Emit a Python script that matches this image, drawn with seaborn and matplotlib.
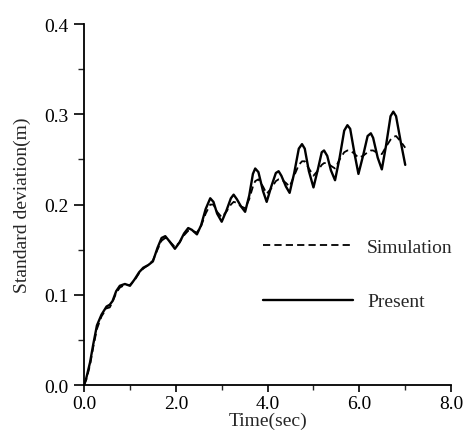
import numpy as np
import pandas as pd
import matplotlib
matplotlib.use("Agg")
import matplotlib.pyplot as plt
import seaborn as sns
from matplotlib.ticker import MultipleLocator, FormatStrFormatter

sns.set_style("ticks")
plt.rcParams['font.family'] = ['Liberation Serif', 'DejaVu Serif']

time = [0, 0.05, 0.13, 0.2, 0.28, 0.38, 0.49, 0.56, 0.62, 0.7, 0.78, 0.89, 1.0,
        1.1, 1.2, 1.29, 1.4, 1.5, 1.6, 1.69, 1.77, 1.85, 1.98, 2.08, 2.18, 2.27,
        2.35, 2.46, 2.55, 2.65, 2.75, 2.82, 2.9, 3.0, 3.1, 3.2, 3.26, 3.33, 3.42,
        3.51, 3.6, 3.68, 3.73, 3.8, 3.9, 3.98, 4.08, 4.18, 4.24, 4.3, 4.4, 4.48,
        4.58, 4.68, 4.75, 4.81, 4.9, 5.0, 5.1, 5.18, 5.23, 5.3, 5.38, 5.47, 5.57,
        5.67, 5.74, 5.8, 5.9, 5.98, 6.08, 6.18, 6.25, 6.3, 6.4, 6.49, 6.58, 6.68,
        6.74, 6.8, 6.9, 7.0]

present = [0.0, 0.008, 0.025, 0.045, 0.066, 0.078, 0.087, 0.089, 0.093, 0.104,
           0.110, 0.112, 0.110, 0.117, 0.125, 0.130, 0.133, 0.137, 0.152, 0.163,
           0.165, 0.160, 0.151, 0.158, 0.168, 0.174, 0.172, 0.167, 0.177, 0.195,
           0.207, 0.203, 0.190, 0.181, 0.193, 0.207, 0.211, 0.206, 0.198, 0.192,
           0.210, 0.234, 0.240, 0.236, 0.215, 0.203, 0.220, 0.235, 0.237, 0.232,
           0.220, 0.213, 0.235, 0.262, 0.267, 0.262, 0.237, 0.219, 0.240, 0.258,
           0.260, 0.254, 0.238, 0.227, 0.252, 0.282, 0.288, 0.284, 0.255, 0.234,
           0.254, 0.276, 0.279, 0.274, 0.252, 0.239, 0.265, 0.298, 0.303, 0.298,
           0.270, 0.244]

simulation = [0.0, 0.006, 0.022, 0.042, 0.062, 0.076, 0.085, 0.086, 0.092, 0.102,
              0.108, 0.111, 0.111, 0.116, 0.124, 0.129, 0.133, 0.138, 0.150, 0.160,
              0.163, 0.160, 0.153, 0.158, 0.166, 0.171, 0.171, 0.169, 0.176, 0.190,
              0.200, 0.200, 0.192, 0.186, 0.192, 0.200, 0.203, 0.202, 0.198, 0.196,
              0.206, 0.220, 0.226, 0.228, 0.220, 0.212, 0.218, 0.226, 0.228, 0.228,
              0.224, 0.220, 0.232, 0.244, 0.248, 0.248, 0.240, 0.232, 0.238, 0.244,
              0.246, 0.246, 0.243, 0.240, 0.250, 0.258, 0.260, 0.260, 0.256, 0.252,
              0.254, 0.258, 0.260, 0.260, 0.257, 0.256, 0.264, 0.272, 0.275, 0.276,
              0.270, 0.263]

df = pd.DataFrame({'time': time, 'Simulation': simulation, 'Present': present})

fig = plt.figure(figsize=(4.67, 4.39), dpi=100)
ax = fig.add_axes([0.18, 0.1207, 0.786, 0.822])

sns.lineplot(x='time', y='Simulation', data=df, ax=ax, color='black',
             linestyle='--', linewidth=1.3, label='Simulation')
ax.lines[-1].set_dashes([4, 2.3])
sns.lineplot(x='time', y='Present', data=df, ax=ax, color='black',
             linewidth=1.7, label='Present')

ax.set_xlim(0, 8)
ax.set_ylim(0, 0.4)
ax.xaxis.set_major_locator(MultipleLocator(2))
ax.xaxis.set_minor_locator(MultipleLocator(1))
ax.yaxis.set_major_locator(MultipleLocator(0.1))
ax.yaxis.set_minor_locator(MultipleLocator(0.05))
ax.xaxis.set_major_formatter(FormatStrFormatter('%.1f'))
ax.yaxis.set_major_formatter(FormatStrFormatter('%.1f'))
ax.tick_params(axis='both', which='major', direction='out', width=1.2,
               labelsize=14, colors='black')
ax.tick_params(axis='y', which='major', length=7, pad=4)
ax.tick_params(axis='y', which='minor', length=4, width=1)
ax.tick_params(axis='x', which='major', length=5, pad=2)
ax.tick_params(axis='x', which='minor', length=3.5, width=1)

sns.despine(ax=ax)
for s in ['left', 'bottom']:
    ax.spines[s].set_linewidth(1.3)
    ax.spines[s].set_color('black')

ax.set_xlabel('Time(sec)', fontsize=14, labelpad=0)
ax.set_ylabel('Standard deviation(m)', fontsize=14, labelpad=10)

leg = ax.legend(loc='upper left', bbox_to_anchor=(0.44, 0.455), frameon=False,
                fontsize=14, handlelength=4.6, handletextpad=0.75,
                labelspacing=1.9)

fig.savefig('out.png', dpi=100)
